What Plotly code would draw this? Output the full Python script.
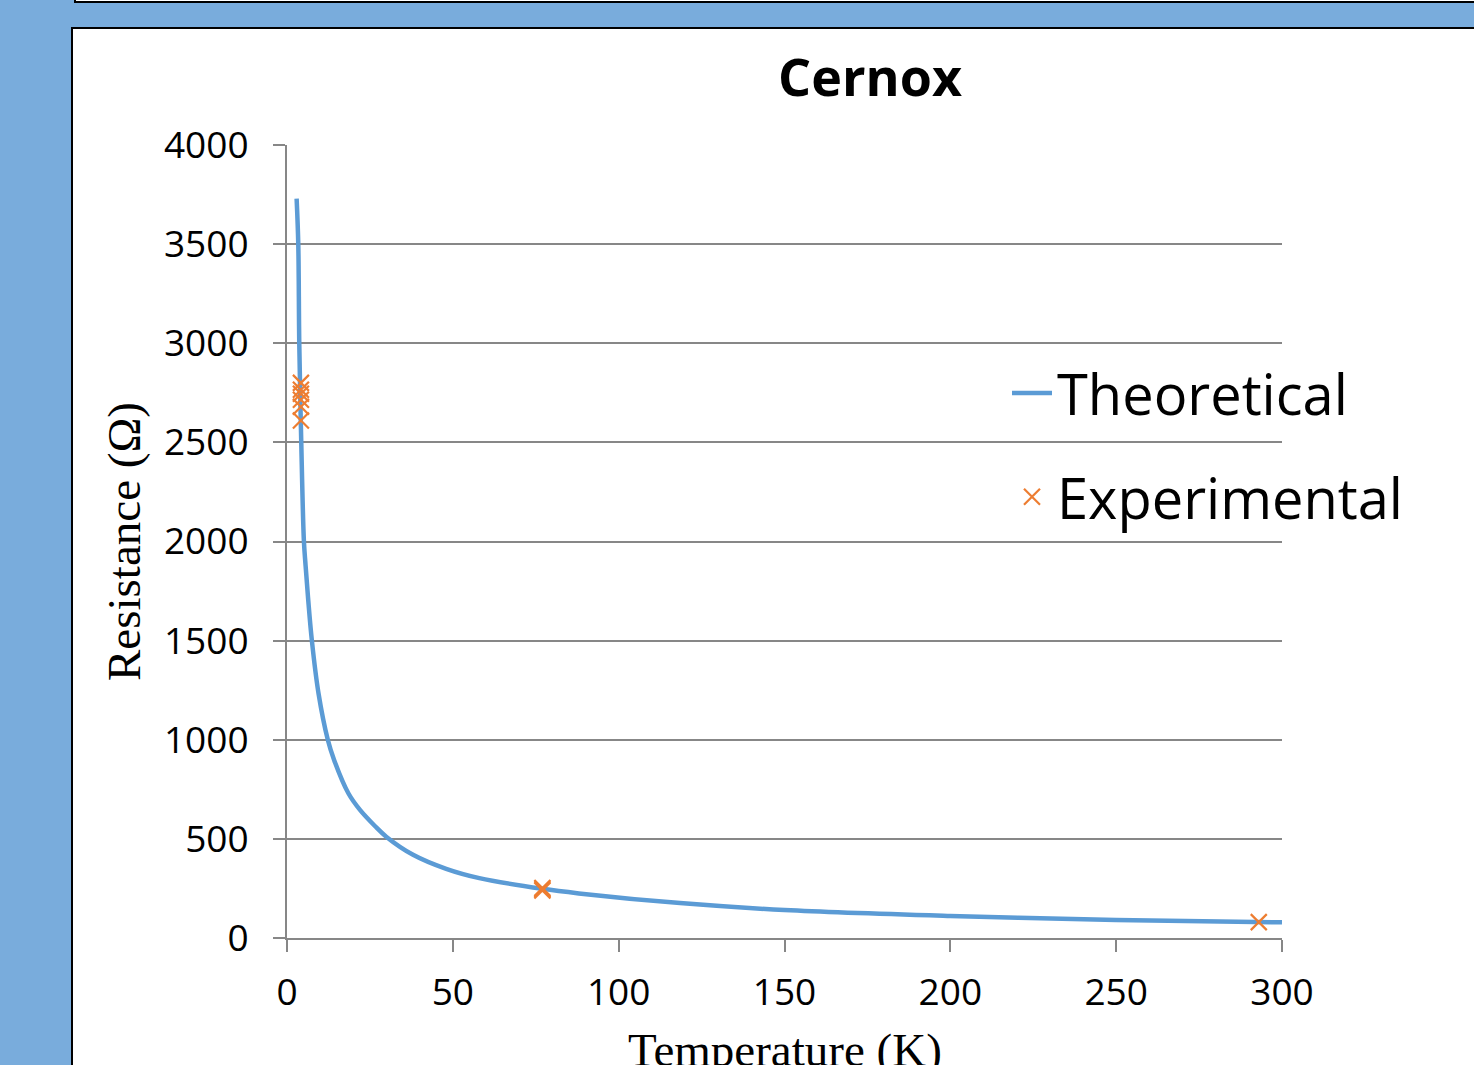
import plotly.graph_objects as go

# Theoretical curve
theo_T = [2.9, 3.4, 3.7, 4.3, 5.1, 5.6, 6.4, 7.5, 9.5, 12.3, 14.2, 18.5, 22, 26.5, 30,
          38, 48, 58, 77, 88, 118.5, 150, 200, 250, 300]
theo_R = [3730, 3500, 3000, 2500, 2000, 1880, 1705, 1500, 1234, 1000, 898, 730, 646, 565, 510,
          420, 349, 302, 248, 225, 176, 141, 111, 91, 79]

# Experimental points
exp_T = [4.2, 4.2, 4.2, 4.2, 4.2, 4.2, 77, 77, 77, 293]
exp_R = [2800, 2765, 2745, 2715, 2680, 2610, 252, 246, 240, 80]

x_ticks = [0, 50, 100, 150, 200, 250, 300]
y_ticks = [0, 500, 1000, 1500, 2000, 2500, 3000, 3500, 4000]

W, H = 1474, 1065
L, R_, T_, B = 287, 1282, 145, 938


def px(x):
    return (x - L) / (R_ - L)


def py(y):
    return (B - y) / (B - T_)


fig = go.Figure()
fig.add_trace(go.Scatter(
    x=theo_T, y=theo_R, mode="lines", name="Theoretical",
    line=dict(color="#5B9BD5", width=4.5, shape="spline", smoothing=1.0),
    legendgroup="a"))
fig.add_trace(go.Scatter(
    x=exp_T, y=exp_R, mode="markers", name="Experimental",
    marker=dict(symbol="x-thin", size=16, line=dict(color="#ED7D31", width=2.2), color="#ED7D31"),
    legendgroup="b"))

grid = "#878787"
fig.update_layout(
    width=W, height=H, autosize=False,
    margin=dict(l=L, r=W - R_, t=T_, b=H - B, pad=0, autoexpand=False),
    paper_bgcolor="#79ACDC",
    plot_bgcolor="rgba(0,0,0,0)",
    font=dict(family="Open Sans", color="black"),
    title=dict(text="<b>Cernox</b>", font=dict(family="Open Sans", size=52, color="black"),
               xref="container", yref="container", x=870 / W, y=1 - 78 / H,
               xanchor="center", yanchor="middle"),
    xaxis=dict(range=[0, 300], tickvals=x_ticks, showgrid=False, showline=True,
               linecolor=grid, linewidth=2, ticks="outside", ticklen=12, tickwidth=2,
               tickcolor=grid, tickfont=dict(size=37, family="Open Sans"),
               ticklabelstandoff=9, zeroline=False, automargin=False),
    yaxis=dict(range=[0, 4000], tickvals=y_ticks, showgrid=True, gridcolor=grid, gridwidth=1.5,
               showline=True, linecolor=grid, linewidth=2, ticks="outside", ticklen=12,
               tickwidth=1.5, tickcolor=grid, tickfont=dict(size=37, family="Open Sans"),
               ticklabelstandoff=17, zeroline=False, automargin=False,
               title=dict(text="Resistance (Ω)", font=dict(family="Liberation Serif", size=47),
                          standoff=9)),
    legend=dict(x=px(1007), y=py(350), xanchor="left", yanchor="top",
                bgcolor="rgba(0,0,0,0)", font=dict(size=56, family="Open Sans"),
                traceorder="grouped", tracegroupgap=28, itemwidth=40),
    annotations=[
        dict(text="Temperature (K)", xref="paper", yref="paper", x=0.5, y=py(1050),
             xanchor="center", yanchor="middle", showarrow=False,
             font=dict(family="Liberation Serif", size=47, color="black")),
    ],
    shapes=[
        dict(type="rect", xref="paper", yref="paper", layer="below",
             x0=px(72), x1=px(1490), y0=py(28), y1=py(1080),
             fillcolor="white", line=dict(color="black", width=2)),
        dict(type="rect", xref="paper", yref="paper", layer="below",
             x0=px(75), x1=px(1490), y0=py(-10), y1=py(2),
             fillcolor="white", line=dict(color="black", width=2)),
    ],
)

fig.write_html(
    "out.html",
    config={"displayModeBar": False},
    post_script="document.body.style.margin='0';document.body.style.overflow='hidden';",
)
